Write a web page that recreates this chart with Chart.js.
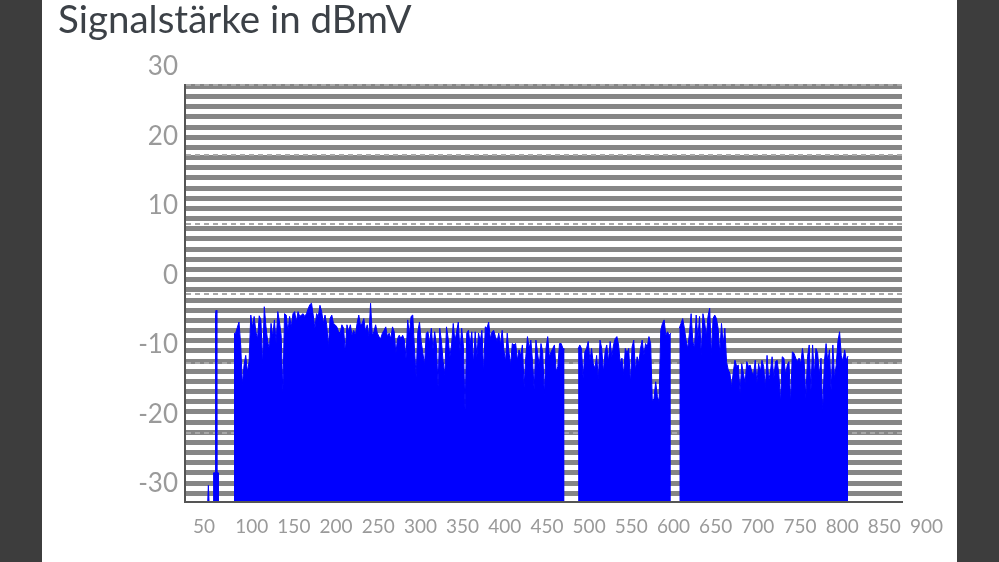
<!DOCTYPE html>
<html>
<head>
<meta charset="utf-8">
<title>Signalstärke in dBmV</title>
<script src="https://cdn.jsdelivr.net/npm/chart.js@4.4.1/dist/chart.umd.min.js"></script>
<style>
  html, body { margin: 0; padding: 0; background: #3d3d3d; }
  #sheet { position: absolute; left: 42px; top: 0; width: 915px; height: 562px; background: #fff; }
</style>
</head>
<body>
<div id="sheet"><canvas id="chart" width="915" height="562"></canvas></div>
<script>
// axis setup (MHz / dBmV)
var xMin = 50, xMax = 900, xStep = 50;
var yMin = -30, yMax = 30, yStep = 10;

// the background stripes of the original plot
var stripeTop = 29.81, stripeStep = 1.464, stripeCount = 41;

// two narrow carriers below the cable band
var fmLowFreqs = [76.9, 77.7, 78.5];
var fmLowLevels = [-30, -27.6, -30];
var fmHighFreqs = [83.6, 83.9, 85.9, 86.2, 86.9, 87.6, 87.9, 89.2, 89.5];
var fmHighLevels = [-30, -25.8, -25.8, -3.0, -2.4, -3.0, -25.8, -25.8, -30];

// main blocks, one value every 2 MHz
var blockStep = 2;
var blockAStart = 108;
var blockALevels = [
  -5.8, -5.7, -4.9, -4.1, -7.4, -13.2, -10.3, -8.9, -11.3, -9.8,
  -3.1, -4.8, -3.3, -5.5, -6.5, -3.2, -3.8, -10.3, -1.9, -4.8,
  -6.9, -8.0, -4.3, -6.2, -3.8, -7.2, -2.6, -4.1, -6.0, -14.4,
  -2.9, -3.1, -5.5, -3.3, -4.8, -2.9, -2.6, -4.1, -2.6, -3.3,
  -3.1, -2.9, -3.3, -2.9, -2.2, -1.6, -1.4, -3.1, -5.0, -2.9,
  -3.3, -1.7, -2.6, -4.3, -3.1, -4.5, -7.7, -3.6, -3.1, -4.3,
  -4.5, -4.8, -5.5, -5.7, -4.5, -5.0, -8.5, -4.5, -5.5, -4.5,
  -6.0, -5.3, -6.0, -4.3, -3.1,
  -4.5, -4.3, -3.6, -5.5, -4.5, -6.2, -1.4, -6.0, -5.5, -4.5,
  -5.7, -6.2, -6.5, -5.7, -5.3, -4.8, -6.2, -5.7, -6.5, -4.8,
  -5.5, -8.6, -6.5, -6.0, -6.5, -6.0, -6.7, -9.3, -3.8, -6.0,
  -3.3, -3.1, -7.9, -12.0, -5.5, -4.1, -6.9, -8.6, -10.3, -5.7,
  -5.5, -7.2, -5.0, -8.1, -5.5, -7.4, -13.4, -5.0, -6.9, -9.8,
  -11.7, -4.8, -6.5, -9.1, -7.4, -4.3, -6.9, -5.5, -4.1, -8.4,
  -5.0, -7.4, -16.8, -5.7, -5.3, -7.4, -5.5, -10.1, -5.5, -9.1,
  -5.7, -6.9, -5.3, -11.3, -4.8, -5.0, -4.1,
  -6.5, -5.5, -5.3, -6.2, -6.9, -5.7, -7.4, -5.3, -8.1, -9.8,
  -5.7, -8.4, -10.3, -7.2, -7.4, -7.2, -9.6, -8.1, -8.9, -7.4,
  -13.4, -9.1, -6.2, -7.9, -6.7, -9.8, -13.9, -6.7, -8.6, -10.5,
  -7.2, -8.4, -14.6, -7.9, -6.2, -9.1, -8.4, -7.9, -7.4, -11.3,
  -10.5, -7.2, -7.2, -7.9, -8.0
];
var blockBStart = 516;
var blockBLevels = [
  -8.0,
  -7.4, -7.9, -12.2, -8.4, -7.9, -6.9, -9.6, -7.9, -10.1, -10.8,
  -8.9, -12.4, -6.7, -7.9, -11.3, -8.4, -7.4, -9.8, -6.9, -9.1,
  -7.4, -6.5, -6.2, -7.4, -10.1, -9.3, -11.7, -7.9, -8.6, -7.9,
  -12.9, -7.7, -6.7, -11.0, -9.1, -10.1, -7.9, -6.7, -8.9, -7.2,
  -7.7, -6.2, -7.2, -15.6, -15.1, -12.7, -14.8, -15.6, -5.3, -4.3,
  -3.8, -6.0, -5.5, -6.0, -5.7
];
var blockCStart = 636;
var blockCLevels = [
  -5.0, -4.3, -3.6, -5.0, -6.7, -7.9, -5.7, -2.9, -6.9, -7.9,
  -3.1, -6.5, -3.3, -8.9, -2.9, -4.1, -6.2, -3.3, -2.1, -8.9,
  -3.6, -3.1, -3.6, -5.0, -8.6, -4.3, -7.4, -5.0, -9.8, -11.0,
  -11.5, -13.4, -11.3, -9.6, -10.5, -10.3, -14.4, -10.1, -11.5, -12.9,
  -9.8, -10.5, -10.3,
  -11.3, -11.7, -9.6, -12.9, -10.1, -11.3, -9.6, -10.5, -13.6, -8.9,
  -12.5, -11.3, -9.1, -12.2, -9.8, -9.6, -11.7, -15.6, -9.1, -9.3,
  -11.7, -10.3, -9.8, -15.8, -8.4, -8.6, -9.3, -9.8, -9.3, -10.1,
  -7.9, -9.8, -15.1, -9.1, -7.4, -14.1, -7.4, -11.7, -7.9, -8.6,
  -11.7, -9.3, -17.2, -9.8, -7.2, -9.8, -8.1, -14.1, -7.4, -12.2,
  -10.3, -6.9, -5.5, -8.9, -9.8, -8.1, -9.6, -9.0
];

var blue = '#0000ff';

function pairs(freqs, levels){
  return freqs.map((f, i) => ({x: f, y: levels[i]}));
}
function block(start, levels){
  return levels.map((v, i) => ({x: start + i * blockStep, y: v}));
}
function area(points){
  return {
    data: points,
    borderColor: blue,
    backgroundColor: blue,
    borderWidth: 1,
    pointRadius: 0,
    tension: 0,
    fill: 'start'
  };
}

var stripeValues = [];
for (var i = 0; i < stripeCount; i++) stripeValues.push(stripeTop - i * stripeStep);

new Chart(document.getElementById('chart'), {
  type: 'line',
  data: {
    datasets: [
      area(pairs(fmLowFreqs, fmLowLevels)),
      area(pairs(fmHighFreqs, fmHighLevels)),
      area(block(blockAStart, blockALevels)),
      area(block(blockBStart, blockBLevels)),
      area(block(blockCStart, blockCLevels))
    ]
  },
  options: {
    responsive: false,
    animation: false,
    devicePixelRatio: 1,
    layout: { padding: { left: 16, right: 55, top: 0, bottom: 0 } },
    plugins: {
      legend: { display: false },
      tooltip: { enabled: false },
      title: {
        display: true,
        text: 'Signalstärke in dBmV',
        align: 'start',
        color: '#3c4147',
        font: { family: 'Lato', size: 38.5, weight: 'normal', lineHeight: 1.05 },
        padding: { top: 0, bottom: 44.6 }
      }
    },
    scales: {
      x: {
        type: 'linear',
        min: xMin, max: xMax,
        grid: { display: false },
        border: { display: true, color: '#555', width: 2, z: 1 },
        ticks: {
          stepSize: xStep,
          align: 'start',
          labelOffset: 8,
          padding: 5,
          color: '#9a9a9a',
          maxRotation: 0,
          autoSkip: false,
          font: { family: 'Lato', size: 19 }
        },
        afterFit: function(scale){ scale.height = 60; }
      },
      y: {
        min: yMin, max: yMax,
        grid: { color: '#a8a8a8', lineWidth: 2, drawTicks: false, z: -1 },
        border: { display: true, color: '#555', width: 2, dash: [5, 4], z: 1 },
        ticks: {
          stepSize: yStep,
          labelOffset: -18,
          padding: 7,
          color: '#9a9a9a',
          font: { family: 'Lato', size: 26 }
        },
        afterFit: function(scale){ scale.width = 127; }
      },
      stripes: {
        position: 'right',
        min: yMin, max: yMax,
        grid: { color: '#868686', lineWidth: 5, drawTicks: false, z: -2 },
        border: { display: false },
        ticks: { display: false },
        afterBuildTicks: function(scale){
          scale.ticks = stripeValues.map(v => ({value: v}));
        }
      }
    }
  }
});
</script>
</body>
</html>
